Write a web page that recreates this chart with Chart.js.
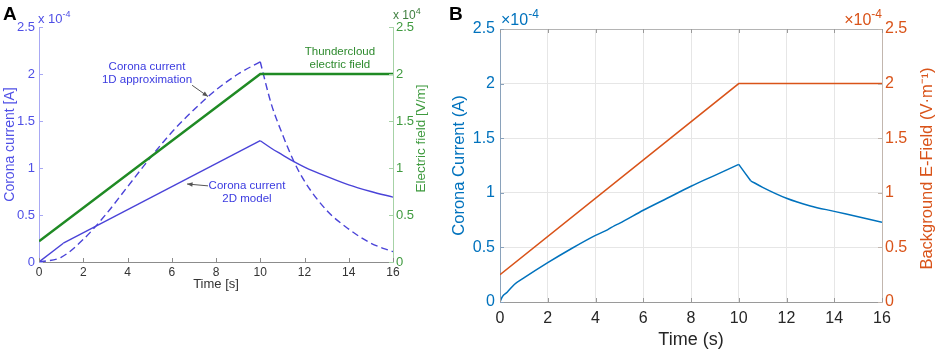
<!DOCTYPE html>
<html>
<head>
<meta charset="utf-8">
<script src="https://cdn.jsdelivr.net/npm/chart.js@4"></script>
<style>
  html, body { margin: 0; padding: 0; background: #fff; }
  #wrap { position: relative; width: 941px; height: 353px; }
  canvas { position: absolute; top: 0; }
  #chartA { left: 0; }
  #chartB { left: 445px; }
</style>
</head>
<body>
<div id="wrap">
  <canvas id="chartA" width="445" height="353"></canvas>
  <canvas id="chartB" width="496" height="353"></canvas>
</div>
<script>
// ---- data, panel A (currents in 1e-4 A, field in 1e4 V/m)
const timeA1D = [0, 1, 2, 3, 4, 5, 6, 7, 8, 9, 10, 10.5, 11, 11.5, 12, 13, 14, 15, 16];
const current1D = [0, 0.05, 0.24, 0.5, 0.8, 1.1, 1.38, 1.62, 1.83, 2.0, 2.13, 1.68, 1.36, 1.08, 0.86, 0.55, 0.35, 0.2, 0.11];
const timeA2D = [0, 1.1, 10, 10.5, 11, 11.5, 12, 13, 14, 15, 16];
const current2D = [0, 0.2, 1.29, 1.21, 1.14, 1.07, 1.01, 0.91, 0.82, 0.75, 0.69];
const timeFieldA = [0, 10, 16];
const fieldA = [0.22, 2.0, 2.0];

// ---- data, panel B (both in 1e-4)
const timeB = [0, 0.1, 0.3, 0.6, 1, 2, 3, 4, 4.5, 4.8, 5, 6, 7, 8, 9, 10, 10.5, 11, 12, 13, 14, 15, 16];
const currentB = [0, 0.05, 0.09, 0.16, 0.22, 0.36, 0.49, 0.61, 0.66, 0.7, 0.72, 0.84, 0.95, 1.06, 1.16, 1.26, 1.11, 1.05, 0.95, 0.88, 0.83, 0.78, 0.73];
const timeFieldB = [0, 10, 16];
const fieldB = [0.25, 2.0, 2.0];

// ---- ticks
const timeTicks = [0, 2, 4, 6, 8, 10, 12, 14, 16];
const valueTicks = [0, 0.5, 1, 1.5, 2, 2.5];

const FONT = "'Liberation Sans', Arial, sans-serif";
Chart.defaults.font.family = FONT;

// split a curve at its kinks so the smoothing keeps the corners sharp
function pieces(times, values, kinks) {
  const out = [];
  let cur = [];
  times.forEach((t, i) => {
    cur.push({ x: t, y: values[i] });
    if (kinks.includes(t) && i > 0 && i < times.length - 1) {
      out.push(cur);
      cur = [{ x: t, y: values[i] }];
    }
  });
  out.push(cur);
  return out;
}

function curve(times, values, kinks, style) {
  return pieces(times, values, kinks).map(d => Object.assign({
    data: d,
    pointRadius: 0,
    fill: false,
    cubicInterpolationMode: 'monotone'
  }, style));
}

function setTicks(list) {
  return scale => { scale.ticks = list.map(v => ({ value: v })); };
}
const plain = v => String(v);

// small inward tick marks, matlab style
const innerTicks = {
  id: 'innerTicks',
  afterDraw(chart, args, opts) {
    const { ctx, chartArea: a, scales } = chart;
    const len = opts.len || 4;
    ctx.save();
    ctx.lineWidth = 1;
    if (opts.box) {
      ctx.strokeStyle = opts.box;
      ctx.beginPath();
      ctx.moveTo(a.left, a.top + 0.5);
      ctx.lineTo(a.right, a.top + 0.5);
      ctx.stroke();
    }
    ['x', 'y', 'y2'].forEach(id => {
      const s = scales[id];
      ctx.strokeStyle = s.options.border.color;
      s.ticks.forEach(t => {
        const p = Math.round(s.getPixelForValue(t.value)) + 0.5;
        ctx.beginPath();
        if (id === 'x') {
          ctx.moveTo(p, a.bottom); ctx.lineTo(p, a.bottom - len);
          if (opts.box) { ctx.moveTo(p, a.top); ctx.lineTo(p, a.top + len); }
        } else if (id === 'y') {
          ctx.moveTo(a.left, p); ctx.lineTo(a.left + len, p);
        } else {
          ctx.moveTo(a.right, p); ctx.lineTo(a.right - len, p);
        }
        ctx.stroke();
      });
    });
    ctx.restore();
  }
};

// "x 10^n" exponent labels
function drawExp(ctx, x, y, base, sup, size, color, alignRight) {
  ctx.font = size + 'px ' + FONT;
  const wb = ctx.measureText(base).width;
  const supSize = Math.round(size * 0.72);
  ctx.font = supSize + 'px ' + FONT;
  const ws = ctx.measureText(sup).width;
  const x0 = alignRight ? x - wb - ws : x;
  ctx.fillStyle = color;
  ctx.textAlign = 'left';
  ctx.textBaseline = 'alphabetic';
  ctx.font = size + 'px ' + FONT;
  ctx.fillText(base, x0, y);
  ctx.font = supSize + 'px ' + FONT;
  ctx.fillText(sup, x0 + wb, y - size * 0.45);
}

const extras = {
  id: 'extras',
  afterDraw(chart, args, opts) {
    const { ctx, chartArea: a, scales } = chart;
    ctx.save();
    ctx.fillStyle = '#000';
    ctx.font = 'bold 19px ' + FONT;
    ctx.textAlign = 'left';
    ctx.textBaseline = 'alphabetic';
    ctx.fillText(opts.letter, opts.letterX, 20);

    opts.exps.forEach(e => {
      const x = e.at === 'right' ? a.right : a.left;
      drawExp(ctx, x + (e.dx || 0), a.top - e.dy, e.base, e.sup, e.size, e.color, e.alignRight);
    });

    // right axis title, read bottom to top like the left one (x is the baseline)
    const t = opts.rightTitle;
    ctx.save();
    ctx.translate(t.x, (a.top + a.bottom) / 2 + (t.dy || 0));
    ctx.rotate(-Math.PI / 2);
    ctx.fillStyle = t.color;
    ctx.font = t.size + 'px ' + FONT;
    ctx.textAlign = 'center';
    ctx.textBaseline = 'alphabetic';
    ctx.fillText(t.text, 0, 0);
    ctx.restore();

    (opts.notes || []).forEach(n => {
      const px = scales.x.getPixelForValue(n.x);
      const py = scales.y.getPixelForValue(n.y);
      ctx.fillStyle = n.color;
      ctx.font = '11.5px ' + FONT;
      ctx.textAlign = 'center';
      ctx.textBaseline = 'middle';
      n.lines.forEach((l, i) => ctx.fillText(l, px, py + (i - (n.lines.length - 1) / 2) * 13));
    });
    (opts.arrows || []).forEach(r => {
      const x1 = scales.x.getPixelForValue(r.from[0]), y1 = scales.y.getPixelForValue(r.from[1]);
      const x2 = scales.x.getPixelForValue(r.to[0]), y2 = scales.y.getPixelForValue(r.to[1]);
      const ang = Math.atan2(y2 - y1, x2 - x1);
      ctx.strokeStyle = '#555';
      ctx.fillStyle = '#555';
      ctx.lineWidth = 1;
      ctx.beginPath();
      ctx.moveTo(x1, y1); ctx.lineTo(x2, y2);
      ctx.stroke();
      ctx.beginPath();
      ctx.moveTo(x2, y2);
      ctx.lineTo(x2 - 6 * Math.cos(ang - 0.4), y2 - 6 * Math.sin(ang - 0.4));
      ctx.lineTo(x2 - 6 * Math.cos(ang + 0.4), y2 - 6 * Math.sin(ang + 0.4));
      ctx.closePath();
      ctx.fill();
    });
    ctx.restore();
  }
};

// ---- panel A
const blueA = '#4a43d8';
const greenA = '#1f8a24';

new Chart(document.getElementById('chartA'), {
  type: 'line',
  data: {
    datasets: [
      ...curve(timeFieldA, fieldA, [], { borderColor: greenA, borderWidth: 2.5, yAxisID: 'y2', cubicInterpolationMode: 'default', tension: 0 }),
      ...curve(timeA1D, current1D, [10], { borderColor: blueA, borderWidth: 1.4, borderDash: [7, 4], yAxisID: 'y' }),
      ...curve(timeA2D, current2D, [1.1, 10], { borderColor: blueA, borderWidth: 1.4, yAxisID: 'y' })
    ]
  },
  options: {
    responsive: false,
    animation: false,
    layout: { padding: { top: 27, left: 0, right: 0, bottom: 0 } },
    plugins: {
      legend: { display: false },
      tooltip: { enabled: false },
      innerTicks: { len: 4 },
      extras: {
        letter: 'A', letterX: 3,
        exps: [
          { base: 'x 10', sup: '-4', size: 13, color: '#4f4fe6', dy: 4, dx: -1, at: 'left' },
          { base: 'x 10', sup: '4', size: 12, color: '#3f7f3f', dy: 8, dx: 0, at: 'right' }
        ],
        rightTitle: { text: 'Electric field [V/m]', color: '#3f9a3f', size: 13.5, x: 425, dy: -6 },
        notes: [
          { lines: ['Corona current', '1D approximation'], x: 4.88, y: 2.01, color: '#3a3ae0' },
          { lines: ['Thundercloud', 'electric field'], x: 13.6, y: 2.17, color: '#2e8a2e' },
          { lines: ['Corona current', '2D model'], x: 9.4, y: 0.745, color: '#3a3ae0' }
        ],
        arrows: [
          { from: [6.92, 1.88], to: [7.64, 1.76] },
          { from: [7.64, 0.81], to: [6.69, 0.83] }
        ]
      }
    },
    scales: {
      x: {
        type: 'linear', min: 0, max: 16,
        afterBuildTicks: setTicks(timeTicks),
        afterFit: s => { s.height = 91; },
        grid: { display: false, drawTicks: false },
        border: { color: '#8c8c8c' },
        ticks: { color: '#333', font: { size: 12 }, padding: 3, maxRotation: 0, callback: plain },
        title: { display: true, text: 'Time [s]', color: '#333', font: { size: 13 }, padding: { top: 0, bottom: 61 } }
      },
      y: {
        position: 'left', min: 0, max: 2.5,
        afterBuildTicks: setTicks(valueTicks),
        afterFit: s => { s.width = 39; },
        grid: { display: false, drawTicks: false },
        border: { color: '#a8a8f4' },
        ticks: { color: '#4f4fe6', font: { size: 13 }, padding: 4, callback: plain },
        title: { display: true, text: 'Corona current [A]', color: '#4f4fe6', font: { size: 14 }, padding: { top: 2, bottom: 0 } }
      },
      y2: {
        position: 'right', min: 0, max: 2.5,
        afterBuildTicks: setTicks(valueTicks),
        afterFit: s => { s.width = 52; },
        grid: { display: false, drawTicks: false },
        border: { color: '#a6d2a6' },
        ticks: { color: '#3f9a3f', font: { size: 13 }, padding: 3, callback: plain }
      }
    }
  },
  plugins: [innerTicks, extras]
});

// ---- panel B
const blueB = '#0072BD';
const orangeB = '#D95319';

new Chart(document.getElementById('chartB'), {
  type: 'line',
  data: {
    datasets: [
      ...curve(timeFieldB, fieldB, [], { borderColor: orangeB, borderWidth: 1.5, yAxisID: 'y2', cubicInterpolationMode: 'default', tension: 0 }),
      ...curve(timeB, currentB, [10, 10.5], { borderColor: blueB, borderWidth: 1.5, yAxisID: 'y' })
    ]
  },
  options: {
    responsive: false,
    animation: false,
    layout: { padding: { top: 29, left: 0, right: 0, bottom: 0 } },
    plugins: {
      legend: { display: false },
      tooltip: { enabled: false },
      innerTicks: { len: 4, box: '#b4b4b4' },
      extras: {
        letter: 'B', letterX: 4,
        exps: [
          { base: '×10', sup: '-4', size: 16, color: blueB, dy: 4, dx: 1, at: 'left' },
          { base: '×10', sup: '-4', size: 16, color: orangeB, dy: 4, dx: 0, at: 'right', alignRight: true }
        ],
        rightTitle: { text: 'Background E-Field (V·m⁻¹)', color: orangeB, size: 16.5, x: 487, dy: 3 }
      }
    },
    scales: {
      x: {
        type: 'linear', min: 0, max: 16,
        afterBuildTicks: setTicks(timeTicks),
        afterFit: s => { s.height = 51; },
        grid: { display: true, drawTicks: false, color: '#e6e6e6' },
        border: { color: '#9a9a9a' },
        ticks: { color: '#262626', font: { size: 16 }, padding: 7, maxRotation: 0, callback: plain },
        title: { display: true, text: 'Time (s)', color: '#262626', font: { size: 18 }, padding: { top: 0, bottom: 2 } }
      },
      y: {
        position: 'left', min: 0, max: 2.5,
        afterBuildTicks: setTicks(valueTicks),
        afterFit: s => { s.width = 55; },
        grid: { display: true, drawTicks: false, color: '#e6e6e6' },
        border: { color: '#8aa2bb' },
        ticks: { color: blueB, font: { size: 16 }, padding: 5, callback: plain },
        title: { display: true, text: 'Corona Current (A)', color: blueB, font: { size: 16.5 }, padding: { top: 5, bottom: 0 } }
      },
      y2: {
        position: 'right', min: 0, max: 2.5,
        afterBuildTicks: setTicks(valueTicks),
        afterFit: s => { s.width = 59; },
        grid: { display: false, drawTicks: false },
        border: { color: '#c2b6ae' },
        ticks: { color: orangeB, font: { size: 16 }, padding: 3, callback: plain }
      }
    }
  },
  plugins: [innerTicks, extras]
});
</script>
</body>
</html>
